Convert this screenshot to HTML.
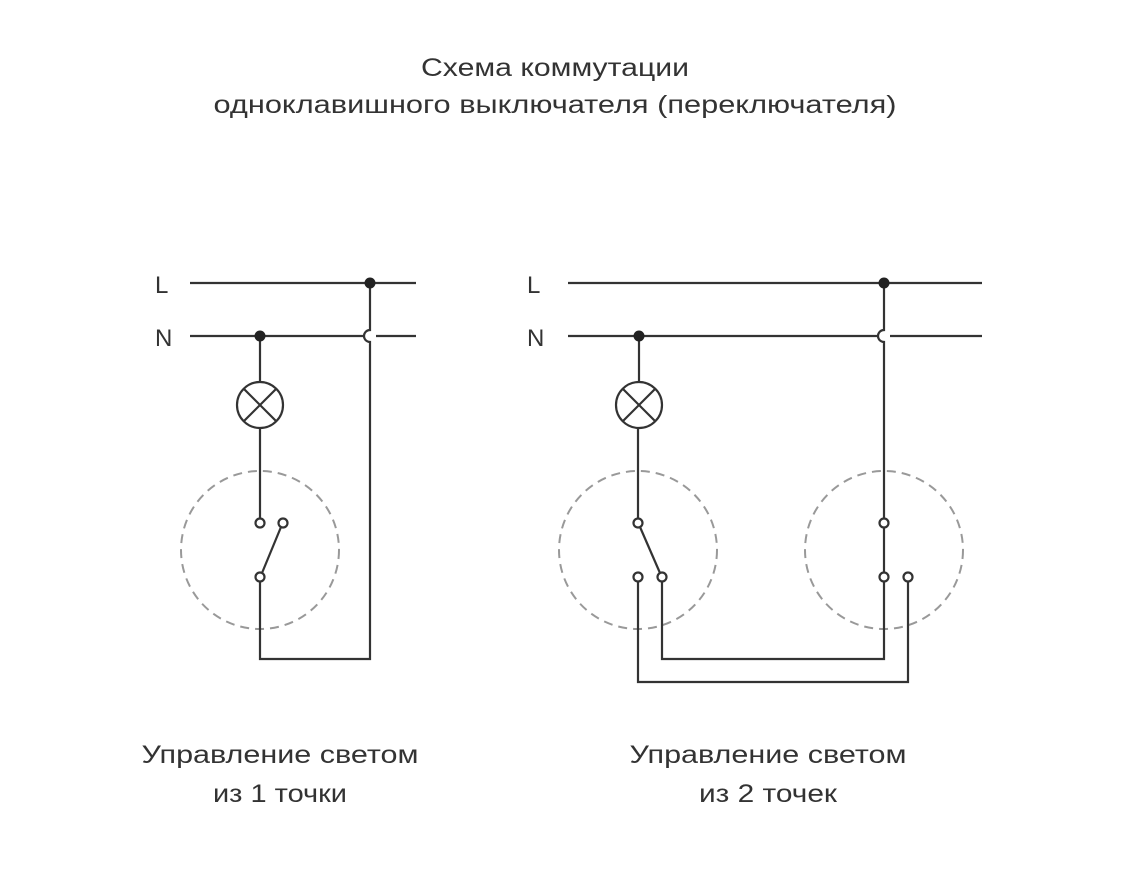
<!DOCTYPE html>
<html><head><meta charset="utf-8"><style>html,body{margin:0;padding:0;background:#fff}svg{display:block}</style></head>
<body>
<svg width="1138" height="879" viewBox="0 0 1138 879" xmlns="http://www.w3.org/2000/svg">
<g font-family="'Liberation Sans', sans-serif" fill="#333" font-weight="normal">
<text x="555" y="76" font-size="25" text-anchor="middle" textLength="268" lengthAdjust="spacingAndGlyphs">Схема коммутации</text>
<text x="555" y="113" font-size="25" text-anchor="middle" textLength="683" lengthAdjust="spacingAndGlyphs">одноклавишного выключателя (переключателя)</text>
<text x="155" y="293" font-size="24">L</text>
<text x="155" y="346" font-size="24">N</text>
<text x="527" y="293" font-size="24">L</text>
<text x="527" y="346" font-size="24">N</text>
<text x="280" y="763" font-size="25" text-anchor="middle" textLength="277" lengthAdjust="spacingAndGlyphs">Управление светом</text>
<text x="280" y="802" font-size="25" text-anchor="middle" textLength="134" lengthAdjust="spacingAndGlyphs">из 1 точки</text>
<text x="768" y="763" font-size="25" text-anchor="middle" textLength="277" lengthAdjust="spacingAndGlyphs">Управление светом</text>
<text x="768" y="802" font-size="25" text-anchor="middle" textLength="138" lengthAdjust="spacingAndGlyphs">из 2 точек</text>
</g>
<g fill="none" stroke="#999" stroke-width="2" stroke-dasharray="9 6">
<circle cx="260" cy="550" r="79"/>
<circle cx="638" cy="550" r="79"/>
<circle cx="884" cy="550" r="79"/>
</g>
<g fill="none" stroke="#333" stroke-width="2.2">
<!-- left -->
<line x1="190" y1="283" x2="416" y2="283"/>
<line x1="190" y1="336" x2="364" y2="336"/>
<line x1="376" y1="336" x2="416" y2="336"/>
<path d="M370 283 V330 A6 6 0 0 0 370 342 V659 H260 V581"/>
<line x1="260" y1="336" x2="260" y2="382"/>
<circle cx="260" cy="405" r="23"/>
<line x1="244" y1="389" x2="276" y2="421"/>
<line x1="276" y1="389" x2="244" y2="421"/>
<line x1="260" y1="428" x2="260" y2="519"/>
<circle cx="260" cy="523" r="4.5" fill="#fff"/>
<circle cx="283" cy="523" r="4.5" fill="#fff"/>
<circle cx="260" cy="577" r="4.5" fill="#fff"/>
<line x1="262" y1="573" x2="281" y2="527"/>
<!-- right -->
<line x1="568" y1="283" x2="982" y2="283"/>
<line x1="568" y1="336" x2="878" y2="336"/>
<line x1="890" y1="336" x2="982" y2="336"/>
<path d="M884 283 V330 A6 6 0 0 0 884 342 V519"/>
<line x1="884" y1="527" x2="884" y2="573"/>
<path d="M884 581 V659 H662 V581"/>
<path d="M638 581 V682 H908 V581"/>
<line x1="639" y1="336" x2="639" y2="382"/>
<circle cx="639" cy="405" r="23"/>
<line x1="623" y1="389" x2="655" y2="421"/>
<line x1="655" y1="389" x2="623" y2="421"/>
<line x1="638" y1="428" x2="638" y2="519"/>
<circle cx="638" cy="523" r="4.5" fill="#fff"/>
<circle cx="638" cy="577" r="4.5" fill="#fff"/>
<circle cx="662" cy="577" r="4.5" fill="#fff"/>
<line x1="640" y1="527" x2="660" y2="573"/>
<circle cx="884" cy="523" r="4.5" fill="#fff"/>
<circle cx="884" cy="577" r="4.5" fill="#fff"/>
<circle cx="908" cy="577" r="4.5" fill="#fff"/>
</g>
<g fill="#222">
<circle cx="370" cy="283" r="5.5"/>
<circle cx="260" cy="336" r="5.5"/>
<circle cx="884" cy="283" r="5.5"/>
<circle cx="639" cy="336" r="5.5"/>
</g>
</svg>
</body></html>
